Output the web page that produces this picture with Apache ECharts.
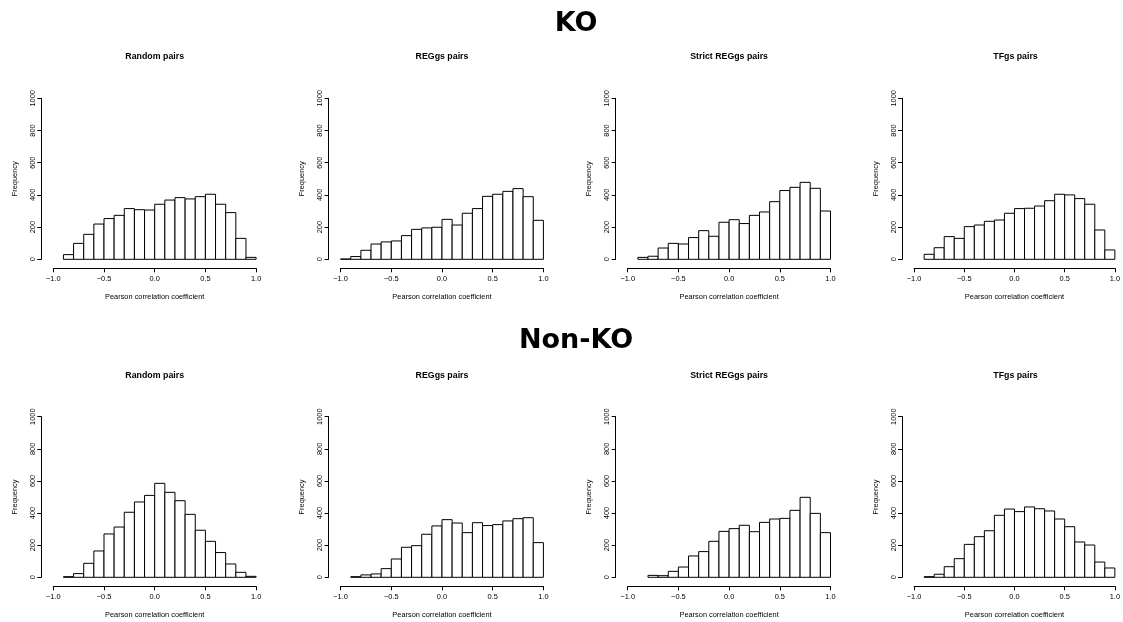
<!DOCTYPE html>
<html>
<head>
<meta charset="utf-8">
<script src="https://cdn.jsdelivr.net/npm/echarts@6/dist/echarts.min.js"></script>
<style>
html,body{margin:0;padding:0;background:#fff;}
#chart{width:1123px;height:622px;}
</style>
</head>
<body>
<div id="chart"></div>
<script>
// ---- data ----
const binEdges = [-1.0,-0.9,-0.8,-0.7,-0.6,-0.5,-0.4,-0.3,-0.2,-0.1,0.0,0.1,0.2,0.3,0.4,0.5,0.6,0.7,0.8,0.9,1.0];
const rowTitles = ['KO', 'Non-KO'];
const panelTitles = ['Random pairs', 'REGgs pairs', 'Strict REGgs pairs', 'TFgs pairs'];
const xAxisTitle = 'Pearson correlation coefficient';
const yAxisTitle = 'Frequency';

const koRandom    = [null,29,99,155,219,253,273,315,308,306,342,368,383,375,389,404,342,290,130,12];
const koREGgs     = [2,17,56,95,108,114,147,186,195,199,248,213,286,315,391,404,422,439,389,242];
const koStrict    = [null,12,19,70,99,95,135,178,143,230,246,222,273,294,358,427,447,478,441,300];
const koTFgs      = [null,31,72,141,130,203,213,236,244,286,315,317,331,364,404,400,377,342,182,58];
const nonkoRandom = [null,4,23,87,164,270,313,405,469,510,585,529,477,392,293,224,154,83,31,6];
const nonkoREGgs  = [null,4,15,21,54,114,187,197,268,320,359,338,278,340,322,328,351,365,371,216];
const nonkoStrict = [null,null,12,10,37,64,133,160,224,286,303,324,284,342,363,367,417,498,398,278];
const nonkoTFgs   = [null,4,19,66,116,205,253,290,386,425,409,438,427,413,363,315,220,201,95,58];

const rows = [
  [koRandom, koREGgs, koStrict, koTFgs],
  [nonkoRandom, nonkoREGgs, nonkoStrict, nonkoTFgs]
];

// ---- layout ----
const gridLefts = [53.3, 340.6, 627.7, 914.1];
const gridWidth = 202.8;
const rowTops = [98.3, 416.7];
const rowHeights = [161, 160.6];
const panelTitleY = [56.7, 375.7];
const rowTitleY = [24, 341];
const rowTitleX = 576;

const axisFont = 'Liberation Sans, Arial, Helvetica, sans-serif';
const fs = 7.4;

const grids = [], xAxes = [], yAxes = [], series = [], graphics = [];
let idx = 0;
rows.forEach((rowData, r) => {
  graphics.push({
    type: 'text', x: rowTitleX, y: rowTitleY[r],
    style: { text: rowTitles[r], font: 'bold 27px "DejaVu Sans", sans-serif', fill: '#000', align: 'center', verticalAlign: 'middle' }
  });
  rowData.forEach((vals, c) => {
    grids.push({ left: gridLefts[c], top: rowTops[r], width: gridWidth, height: rowHeights[r], containLabel: false });
    graphics.push({
      type: 'text', x: gridLefts[c] + gridWidth / 2, y: panelTitleY[r],
      style: { text: panelTitles[c], font: 'bold 8.8px ' + axisFont, fill: '#000', align: 'center', verticalAlign: 'middle' }
    });
    xAxes.push({
      type: 'value', gridIndex: idx, min: -1, max: 1, interval: 0.5, offset: 9,
      axisLine: { show: true, onZero: false, lineStyle: { color: '#000', width: 1 } },
      axisTick: { show: true, length: 4, lineStyle: { color: '#000', width: 1 } },
      axisLabel: { show: true, color: '#000', fontSize: fs, fontFamily: axisFont, margin: 7,
        showMinLabel: true, showMaxLabel: true,
        formatter: v => v.toFixed(1).replace('-', '\u2212') },
      splitLine: { show: false },
      name: xAxisTitle, nameLocation: 'middle', nameGap: 25,
      nameTextStyle: { color: '#000', fontSize: fs, fontFamily: axisFont }
    });
    yAxes.push({
      type: 'value', gridIndex: idx, min: 0, max: 1000, interval: 200, offset: 12,
      axisLine: { show: true, onZero: false, lineStyle: { color: '#000', width: 1 } },
      axisTick: { show: true, length: 4, lineStyle: { color: '#000', width: 1 } },
      axisLabel: { show: true, color: '#000', fontSize: fs, fontFamily: axisFont, margin: 5, rotate: 90,
        showMinLabel: true, showMaxLabel: true, formatter: v => String(v) },
      splitLine: { show: false },
      name: yAxisTitle, nameLocation: 'middle', nameGap: 23, nameRotate: 90,
      nameTextStyle: { color: '#000', fontSize: fs, fontFamily: axisFont }
    });
    const data = [];
    vals.forEach((v, i) => {
      if (v !== null && v !== undefined) data.push([binEdges[i], binEdges[i + 1], v]);
    });
    series.push({
      type: 'custom', xAxisIndex: idx, yAxisIndex: idx, clip: false,
      encode: { x: [0, 1], y: 2 },
      renderItem: function (params, api) {
        const p0 = api.coord([api.value(0), api.value(2)]);
        const p1 = api.coord([api.value(1), 0]);
        return {
          type: 'rect',
          shape: { x: p0[0], y: p0[1], width: p1[0] - p0[0], height: p1[1] - p0[1] },
          style: { fill: '#fff', stroke: '#000', lineWidth: 1 }
        };
      },
      data: data
    });
    idx++;
  });
});

const chart = echarts.init(document.getElementById('chart'), null, { renderer: 'canvas' });
chart.setOption({
  backgroundColor: '#fff',
  animation: false,
  grid: grids,
  xAxis: xAxes,
  yAxis: yAxes,
  series: series,
  graphic: graphics
});
</script>
</body>
</html>
